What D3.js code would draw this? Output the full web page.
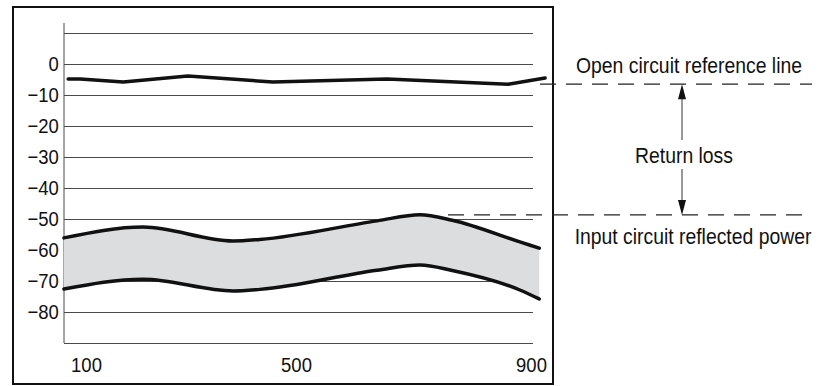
<!DOCTYPE html>
<html>
<head>
<meta charset="utf-8">
<script src="https://cdn.jsdelivr.net/npm/d3@7"></script>
<style>
  body { margin: 0; background: #fff; }
  svg { display: block; }
</style>
</head>
<body>
<div id="chart-area"></div>
<script>
// frequency (MHz) sample points shared by both band edges
const freq = [58, 209, 380, 431, 638, 711, 766, 881, 914];
const upperDb = [-56.1, -52.6, -57.1, -56.6, -50.6, -48.6, -50.4, -57.4, -59.4];
const lowerDb = [-72.6, -69.4, -73.2, -72.7, -66.5, -64.8, -66.6, -72.9, -75.8];

// open circuit trace
const openFreq = [66, 89, 171, 294, 456, 655, 861, 924];
const openDb = [-4.8, -4.8, -5.8, -3.9, -5.8, -4.8, -6.5, -4.5];

// reference levels
const refOpenDb = -6.5;
const refInputDb = -48.7;

const xTicks = [100, 500, 900];
const yTicks = [10, 0, -10, -20, -30, -40, -50, -60, -70, -80, -90];
const yLabelled = [0, -10, -20, -30, -40, -50, -60, -70, -80];

const width = 819, height = 386;
const plotLeft = 64, plotRight = 533, plotTop = 23;
const squeeze = 0.88;
const font = "'Liberation Sans', Arial, sans-serif";

const svg = d3.select("#chart-area")
	.append("svg")
	.attr("width", width)
	.attr("height", height);

// the printed frequency axis is not quite linear
const x = d3.scaleLinear().domain([100, 500, 900]).range([86, 296, 531]);
const y = d3.scaleLinear().domain([-90, 10]).range([343, 33]);

// outer frame
svg.append("rect")
	.attr("x", 13).attr("y", 7)
	.attr("width", 540).attr("height", 377)
	.attr("fill", "none")
	.attr("stroke", "#111")
	.attr("stroke-width", 2);

// y gridlines + labels
const yAxisCall = d3.axisLeft(y)
	.tickValues(yTicks)
	.tickSize(-(plotRight - plotLeft))
	.tickPadding(6)
	.tickFormat(d => yLabelled.includes(d) ? d3.format("d")(d) : "");
const yAxis = svg.append("g")
	.attr("class", "y-axis")
	.attr("transform", `translate(${plotLeft}, 0)`)
	.call(yAxisCall);
yAxis.select(".domain").remove();
yAxis.selectAll("line").attr("stroke", "#4a4a4a").attr("stroke-width", 1);
yAxis.selectAll("text")
	.attr("font-family", font)
	.attr("font-size", 21)
	.attr("fill", "#111")
	.attr("transform", `scale(${squeeze},1)`);

// left axis line
svg.append("line")
	.attr("x1", plotLeft).attr("x2", plotLeft)
	.attr("y1", plotTop).attr("y2", y(-90))
	.attr("stroke", "#4a4a4a");

// x labels
const xAxisCall = d3.axisBottom(x)
	.tickValues(xTicks)
	.tickSize(0)
	.tickPadding(14)
	.tickFormat(d3.format("d"));
const xAxis = svg.append("g")
	.attr("class", "x-axis")
	.attr("transform", `translate(0, ${y(-90)})`)
	.call(xAxisCall);
xAxis.select(".domain").remove();
xAxis.selectAll("text")
	.attr("font-family", font)
	.attr("font-size", 21)
	.attr("fill", "#111")
	.attr("transform", `scale(${squeeze},1)`);

// band
const band = freq.map((f, i) => ({ f, hi: upperDb[i], lo: lowerDb[i] }));
const area = d3.area()
	.x(d => x(d.f))
	.y0(d => y(d.lo))
	.y1(d => y(d.hi))
	.curve(d3.curveMonotoneX);
svg.append("path")
	.datum(band)
	.attr("d", area)
	.attr("fill", "#dcdddf");

const bandLine = key => d3.line()
	.x(d => x(d.f))
	.y(d => y(d[key]))
	.curve(d3.curveMonotoneX);
["hi", "lo"].forEach(k => {
	svg.append("path")
		.datum(band)
		.attr("d", bandLine(k))
		.attr("fill", "none")
		.attr("stroke", "#111")
		.attr("stroke-width", 3.5)
		.attr("stroke-linecap", "round");
});

// open circuit trace
const openData = openFreq.map((f, i) => ({ f, v: openDb[i] }));
svg.append("path")
	.datum(openData)
	.attr("d", d3.line().x(d => x(d.f)).y(d => y(d.v)))
	.attr("fill", "none")
	.attr("stroke", "#111")
	.attr("stroke-width", 3.5)
	.attr("stroke-linecap", "round")
	.attr("stroke-linejoin", "round");

// dashed reference lines
const dashed = (x1, val) => svg.append("line")
	.attr("x1", x1).attr("x2", 812)
	.attr("y1", y(val)).attr("y2", y(val))
	.attr("stroke", "#222")
	.attr("stroke-width", 1.2)
	.attr("stroke-dasharray", "16,10");
dashed(540, refOpenDb);
dashed(448, refInputDb);

// return loss arrow
const arrowX = 682;
const yTopRef = y(refOpenDb), yBotRef = y(refInputDb);
svg.append("line")
	.attr("x1", arrowX).attr("x2", arrowX)
	.attr("y1", yTopRef + 10).attr("y2", 140)
	.attr("stroke", "#333");
svg.append("line")
	.attr("x1", arrowX).attr("x2", arrowX)
	.attr("y1", 169).attr("y2", yBotRef - 10)
	.attr("stroke", "#333");
svg.append("path")
	.attr("d", `M${arrowX},${yTopRef} L${arrowX - 4},${yTopRef + 15} L${arrowX + 4},${yTopRef + 15} Z`)
	.attr("fill", "#111");
svg.append("path")
	.attr("d", `M${arrowX},${yBotRef} L${arrowX - 4},${yBotRef - 15} L${arrowX + 4},${yBotRef - 15} Z`)
	.attr("fill", "#111");

// annotation texts
const note = (cx, base, txt) => svg.append("text")
	.attr("transform", `translate(${cx}, ${base}) scale(${squeeze},1)`)
	.attr("text-anchor", "middle")
	.attr("font-family", font)
	.attr("font-size", 22)
	.attr("fill", "#111")
	.text(txt);
note(689, 73, "Open circuit reference line");
note(684, 163, "Return loss");
note(693, 244, "Input circuit reflected power");
</script>
</body>
</html>
